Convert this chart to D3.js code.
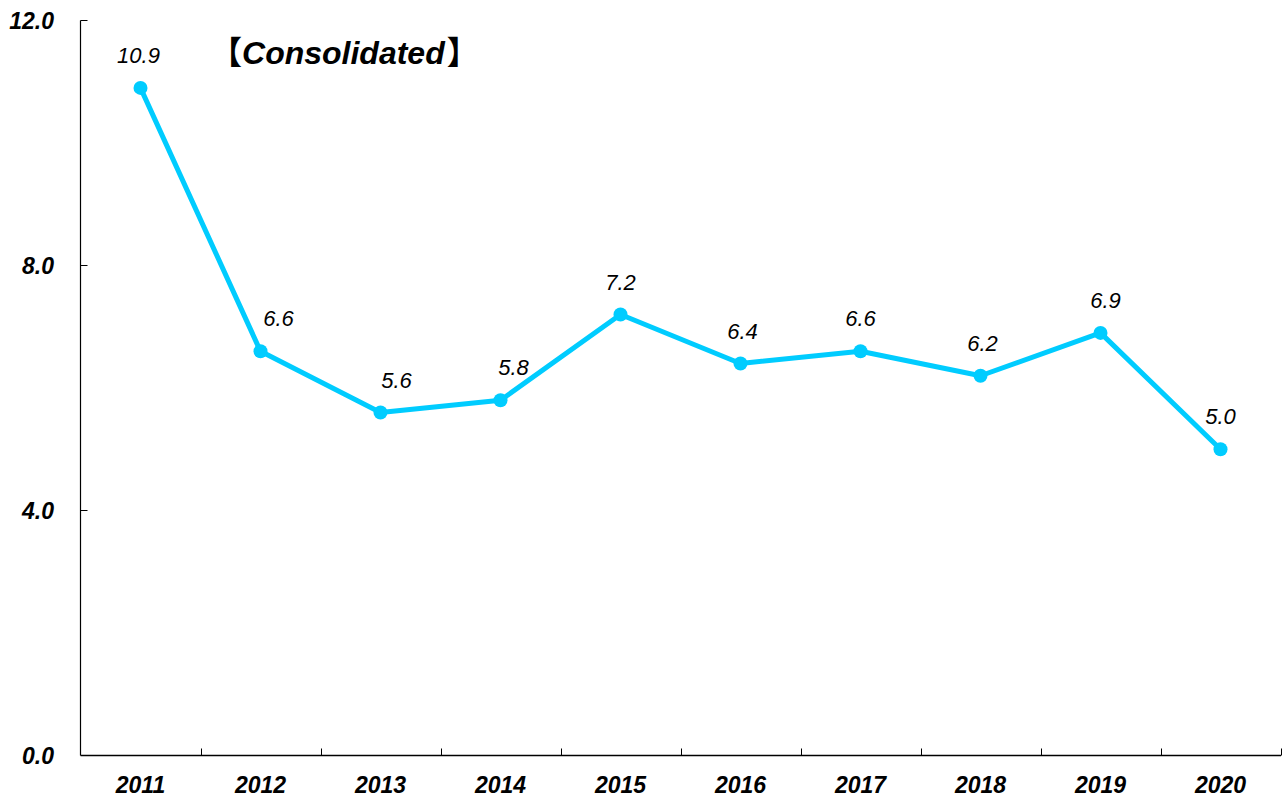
<!DOCTYPE html>
<html><head><meta charset="utf-8">
<script src="https://cdn.jsdelivr.net/npm/d3@7"></script>
<style>body{margin:0;background:#fff}svg{display:block}text{font-family:"Liberation Sans",Arial,sans-serif;font-style:italic}</style>
</head><body><svg id="c" width="1282" height="801"></svg>
<script>
const years = ["2011","2012","2013","2014","2015","2016","2017","2018","2019","2020"];
const values = [10.9,6.6,5.6,5.8,7.2,6.4,6.6,6.2,6.9,5.0];
const yTicks = [0,4,8,12];
const titleText = "Consolidated";

const svg = d3.select("#c");
const x = d3.scaleBand().domain(years).range([80.5,1280.5]);
const y = d3.scaleLinear().domain([0,12]).range([755.5,20.5]);

// y axis
svg.append("line").attr("x1",80.5).attr("x2",80.5).attr("y1",y(12)).attr("y2",y(0)).attr("stroke","#000").attr("stroke-width",1.2);
yTicks.forEach(t=>{
  if(t>0) svg.append("line").attr("x1",80.5).attr("x2",87.5).attr("y1",y(t)).attr("y2",y(t)).attr("stroke","#000");
  svg.append("text").attr("x",54).attr("y",y(t)+8).attr("text-anchor","end")
    .attr("font-size",23).attr("font-weight","bold").text(t.toFixed(1));
});
// x axis
svg.append("line").attr("x1",80.5).attr("x2",1281).attr("y1",y(0)).attr("y2",y(0)).attr("stroke","#000").attr("stroke-width",1.5);
years.forEach((yr,i)=>{
  const xe = x(yr)+x.bandwidth();
  svg.append("line").attr("x1",Math.round(xe)+0.5).attr("x2",Math.round(xe)+0.5).attr("y1",y(0)).attr("y2",y(0)-7).attr("stroke","#000");
  svg.append("text").attr("x",x(yr)+x.bandwidth()/2).attr("y",793).attr("text-anchor","middle")
    .attr("font-size",23).attr("font-weight","bold").text(yr);
});
// line
const cx = d=>x(d)+x.bandwidth()/2;
svg.append("path").datum(values).attr("fill","none").attr("stroke","#00CCFF").attr("stroke-width",5).attr("stroke-linejoin","round")
  .attr("d",d3.line().x((d,i)=>cx(years[i])).y(d=>y(d)));
svg.selectAll("circle.p").data(values).join("circle").attr("cx",(d,i)=>cx(years[i])).attr("cy",d=>y(d)).attr("r",7).attr("fill","#00CCFF");
const labelDx = [-2,18,16,13,0,2,0,2,5,0];
svg.selectAll("text.l").data(values).join("text").attr("class","l").attr("x",(d,i)=>cx(years[i])+labelDx[i]).attr("y",d=>y(d)-25)
  .attr("text-anchor","middle").attr("font-size",22).text(d=>d.toFixed(1));
const t = svg.append("text").attr("x",210).attr("y",64).attr("font-size",32).attr("font-weight","bold");
t.append("tspan").style("font-family","'Noto Sans CJK JP'").style("font-style","normal").text("【");
t.append("tspan").attr("dx",0).text(titleText);
t.append("tspan").attr("dx",2).style("font-family","'Noto Sans CJK JP'").style("font-style","normal").text("】");
</script></body></html>
